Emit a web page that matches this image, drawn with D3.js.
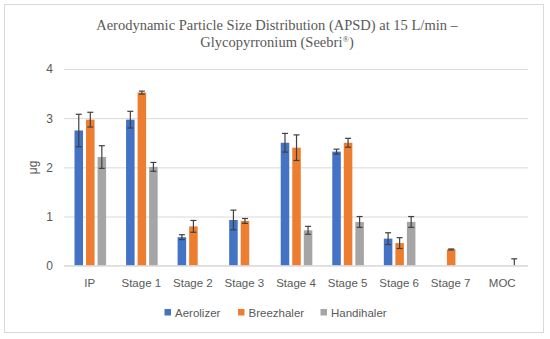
<!DOCTYPE html>
<html>
<head>
<meta charset="utf-8">
<script src="https://cdn.jsdelivr.net/npm/d3@7"></script>
<style>
  body { margin: 0; background: #fff; }
  svg text { fill: #595959; }
</style>
</head>
<body>
<svg id="chart" width="550" height="339"></svg>
<script>
const categories = ['IP', 'Stage 1', 'Stage 2', 'Stage 3', 'Stage 4', 'Stage 5', 'Stage 6', 'Stage 7', 'MOC'];
const seriesNames = ['Aerolizer', 'Breezhaler', 'Handihaler'];
const colors = ['#4472c4', '#ed7d31', '#a5a5a5'];

// mean values (µg), null = no bar
const aerolizer  = [2.75, 2.97, 0.58, 0.93, 2.50, 2.32, 0.55, null, null];
const breezhaler = [2.97, 3.52, 0.80, 0.91, 2.40, 2.50, 0.46, 0.33, null];
const handihaler = [2.21, 2.01, null, null, 0.72, 0.89, 0.89, null, 0];

// standard deviations
const aerolizerErr  = [0.33, 0.17, 0.05, 0.20, 0.19, 0.05, 0.12, null, null];
const breezhalerErr = [0.15, 0.03, 0.12, 0.05, 0.26, 0.09, 0.11, 0.01, null];
const handihalerErr = [0.23, 0.09, null, null, 0.08, 0.11, 0.11, null, 0.14];

const yTicks = [0, 1, 2, 3, 4];

const values = [aerolizer, breezhaler, handihaler];
const errors = [aerolizerErr, breezhalerErr, handihalerErr];

const svg = d3.select('#chart');

svg.append('rect')
  .attr('x', 4.5).attr('y', 4.5)
  .attr('width', 539).attr('height', 328)
  .attr('fill', '#fff')
  .attr('stroke', '#d9d9d9');

const plot = { left: 64, right: 528, top: 69, bottom: 265.7 };

const x = d3.scaleBand().domain(categories).range([plot.left, plot.right]);
const xs = d3.scaleBand().domain(seriesNames)
  .range([10.5, 42.1]).paddingInner(0.26).paddingOuter(0);
const y = d3.scaleLinear().domain([0, 4]).range([plot.bottom, plot.top]);

// title
const title = svg.append('g')
  .attr('text-anchor', 'middle')
  .style('font-family', '"Liberation Serif", serif')
  .style('font-size', '14.5px');
title.append('text').attr('x', 277).attr('y', 30)
  .text('Aerodynamic Particle Size Distribution (APSD) at 15 L/min –');
const t2 = title.append('text').attr('x', 277).attr('y', 47);
t2.append('tspan').text('Glycopyrronium (Seebri');
t2.append('tspan').attr('dy', -5).style('font-size', '8.5px').text('®');
t2.append('tspan').attr('dy', 5).text(')');

// grid + y axis
const yAxis = svg.append('g')
  .attr('transform', `translate(${plot.left},0)`)
  .call(d3.axisLeft(y).tickValues(yTicks).tickSize(-(plot.right - plot.left)).tickPadding(11).tickFormat(d3.format('d')));
yAxis.select('.domain').remove();
yAxis.selectAll('.tick line').attr('stroke', '#d9d9d9');
yAxis.selectAll('.tick text')
  .style('font-family', '"Liberation Sans", sans-serif')
  .style('font-size', '12px')
  .attr('fill', '#595959');

svg.append('text')
  .attr('transform', `translate(37,${(plot.top + plot.bottom) / 2}) rotate(-90)`)
  .attr('text-anchor', 'middle')
  .style('font-family', '"Liberation Sans", sans-serif')
  .style('font-size', '12px')
  .text('μg');

// bars
const bars = [];
values.forEach((vals, s) => {
  vals.forEach((v, i) => {
    if (v === null) return;
    bars.push({ s, cat: categories[i], v, e: errors[s][i] });
  });
});

svg.append('g').selectAll('rect')
  .data(bars)
  .join('rect')
  .attr('x', d => x(d.cat) + xs(seriesNames[d.s]))
  .attr('width', xs.bandwidth())
  .attr('y', d => y(d.v))
  .attr('height', d => y(0) - y(d.v))
  .attr('fill', d => colors[d.s]);

// error bars
const eg = svg.append('g').attr('stroke', '#404040').attr('stroke-width', 1.2).attr('fill', 'none');
bars.filter(d => d.e !== null).forEach(d => {
  const cx = x(d.cat) + xs(seriesNames[d.s]) + xs.bandwidth() / 2;
  const hi = y(d.v + d.e);
  const lo = y(Math.max(0, d.v - d.e));
  eg.append('line').attr('x1', cx).attr('x2', cx).attr('y1', hi).attr('y2', lo);
  eg.append('line').attr('x1', cx - 3).attr('x2', cx + 3).attr('y1', hi).attr('y2', hi);
  if (d.v - d.e > 0) {
    eg.append('line').attr('x1', cx - 3).attr('x2', cx + 3).attr('y1', lo).attr('y2', lo);
  }
});

// baseline
svg.append('line')
  .attr('x1', plot.left).attr('x2', plot.right)
  .attr('y1', y(0)).attr('y2', y(0))
  .attr('stroke', '#d9d9d9');

// x labels
svg.append('g').selectAll('text')
  .data(categories)
  .join('text')
  .attr('x', d => x(d) + x.bandwidth() / 2)
  .attr('y', 287)
  .attr('text-anchor', 'middle')
  .style('font-family', '"Liberation Sans", sans-serif')
  .style('font-size', '11.5px')
  .text(d => d);

// legend
const legendX = [164.5, 238, 320.5];
const lg = svg.append('g');
seriesNames.forEach((name, i) => {
  lg.append('rect')
    .attr('x', legendX[i]).attr('y', 309)
    .attr('width', 6.5).attr('height', 6.5)
    .attr('fill', colors[i]);
  lg.append('text')
    .attr('x', legendX[i] + 10.5).attr('y', 316.5)
    .style('font-family', '"Liberation Sans", sans-serif')
    .style('font-size', '11.5px')
    .text(name);
});
</script>
</body>
</html>
